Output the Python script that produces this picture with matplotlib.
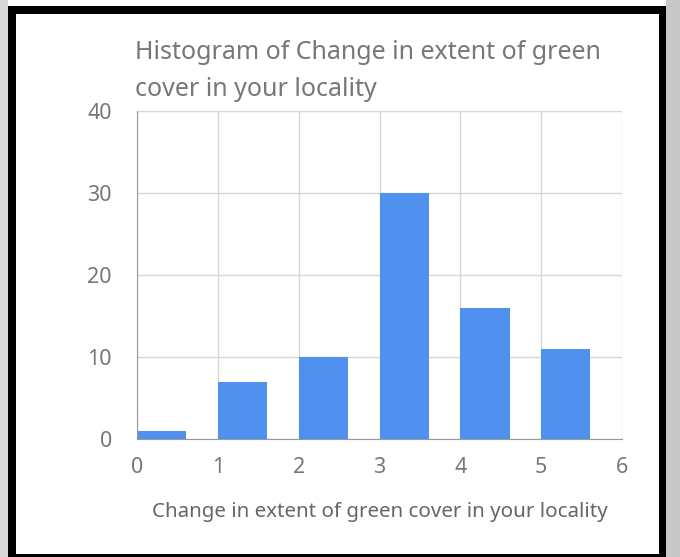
import matplotlib
matplotlib.use("Agg")
from matplotlib import pyplot as plt
from matplotlib.patches import Rectangle

plt.rcParams['font.family'] = ['Noto Sans', 'DejaVu Sans']

bin_starts = [0, 1, 2, 3, 4, 5]
counts = [1, 7, 10, 30, 16, 11]
x_ticks = [0, 1, 2, 3, 4, 5, 6]
y_ticks = [0, 10, 20, 30, 40]
title = "Histogram of Change in extent of green\ncover in your locality"
x_label = "Change in extent of green cover in your locality"

W, H = 680, 557


def px(x0, y0, x1, y1, color):
    # rectangle in pixel coords, y measured from top
    return Rectangle((x0 / W, 1 - y1 / H), (x1 - x0) / W, (y1 - y0) / H,
                     transform=fig.transFigure, facecolor=color,
                     edgecolor='none', zorder=10)


if __name__ == '__main__':
    fig = plt.figure(figsize=(6.8, 5.57), dpi=100)
    ax = fig.add_axes([137 / W, 1 - 439 / H, 485 / W, 328 / H])

    ax.bar(bin_starts, counts, 0.61, align='edge', color='#5090ee', zorder=3)

    ax.set_xlim(0, 6)
    ax.set_ylim(0, 40)
    ax.set_xticks(x_ticks)
    ax.set_yticks(y_ticks)
    ax.grid(True, color='#d6d6d6', linewidth=1, zorder=0)
    ax.tick_params(length=0, labelsize=15.5, colors='#777777')
    ax.tick_params(axis='y', pad=18)
    ax.tick_params(axis='x', pad=13)
    for s in ['top', 'right']:
        ax.spines[s].set_visible(False)
    for s in ['left', 'bottom']:
        ax.spines[s].set_color('#999999')
        ax.spines[s].set_zorder(4)

    ax.set_xlabel(x_label, fontsize=14.8, color='#666666', labelpad=17)
    fig.text(135 / W, 1 - 40 / H, title, fontsize=18, color='#777777',
             ha='left', va='top', linespacing=1.65)

    # black frame with drop shadow
    fig.patches.append(px(0, 0, 8, H, '#d8d8d8'))
    fig.patches.append(px(666, 0, W, H, '#c8c8c8'))
    fig.patches.append(px(8, 6, 666, 14, '#000000'))
    fig.patches.append(px(8, 6, 16, H, '#000000'))
    fig.patches.append(px(659, 6, 666, H, '#000000'))
    fig.patches.append(px(8, 554, 666, H, '#000000'))

    fig.savefig('out.png', dpi=100)
